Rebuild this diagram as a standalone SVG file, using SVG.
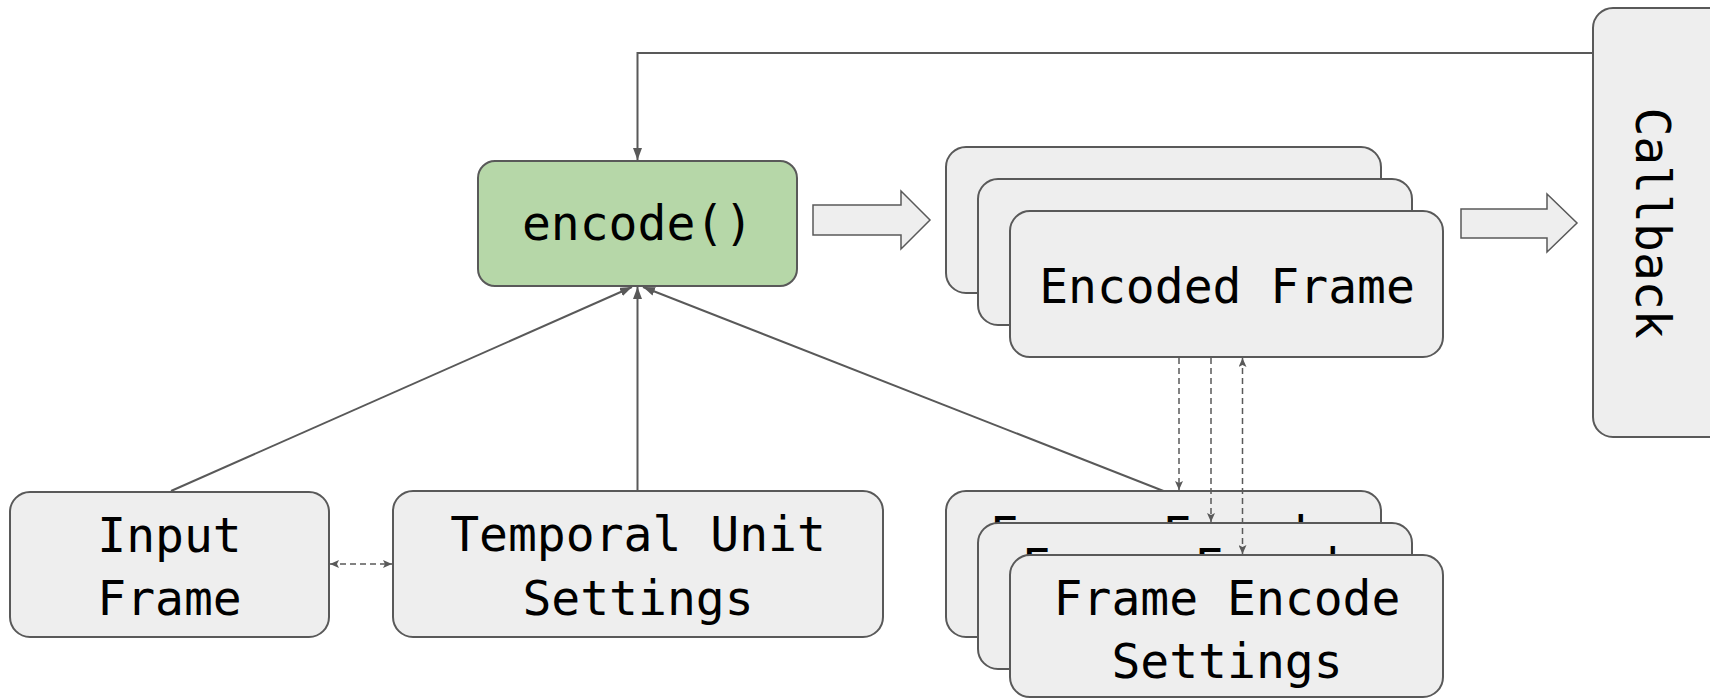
<svg xmlns="http://www.w3.org/2000/svg" width="1710" height="698" viewBox="0 0 1710 698">
  <style>
    .box { fill: #eeeeee; stroke: #595959; stroke-width: 2; }
    .fn { fill: #b6d7a8; stroke: #595959; stroke-width: 2; }
    .blk { fill: #eeeeee; stroke: #595959; stroke-width: 1.5; }
    .lbl { font-family: "DejaVu Sans Mono", "Liberation Mono", monospace; font-size: 48px; fill: #000000; text-anchor: middle; }
    .ln { fill: none; stroke: #595959; stroke-width: 2; }
    .dash { fill: none; stroke: #595959; stroke-width: 1.5; stroke-dasharray: 6 4; }
  </style>
  <defs>
    <marker id="arr" markerUnits="userSpaceOnUse" markerWidth="12" markerHeight="9" refX="12" refY="4.5" orient="auto">
      <path d="M0,0 L12,4.5 L0,9 z" fill="#595959"/>
    </marker>
    <marker id="sarr" markerUnits="userSpaceOnUse" markerWidth="9" markerHeight="8" refX="9" refY="4" orient="auto-start-reverse">
      <path d="M0,0 L9,4 L0,8 L2,4 z" fill="#595959"/>
    </marker>
  </defs>

  <rect width="1710" height="698" fill="#ffffff"/>

  <!-- encode() call -->
  <g id="encode">
    <rect class="fn" x="478" y="161" width="319" height="125" rx="17"/>
    <text class="lbl" x="637.5" y="240">encode()</text>
  </g>

  <!-- block arrow: encode -> encoded frames -->
  <g id="arrow-encode-out">
    <path class="blk" d="M813,205 H901 V191 L930,220 L901,249 V235 H813 z"/>
  </g>

  <!-- stack of encoded frames -->
  <g id="encoded-frames">
    <rect class="box" x="946" y="147" width="435" height="146" rx="20"/>
    <rect class="box" x="978" y="179" width="434" height="146" rx="20"/>
    <rect class="box" x="1010" y="211" width="433" height="146" rx="20"/>
    <text class="lbl" x="1227" y="303">Encoded Frame</text>
  </g>

  <!-- block arrow: encoded frames -> callback -->
  <g id="arrow-callback">
    <path class="blk" d="M1461,209 H1547 V194 L1577,223 L1547,252 V238 H1461 z"/>
  </g>

  <!-- callback -->
  <g id="callback">
    <rect class="box" x="1593" y="8" width="140" height="429" rx="20"/>
    <text class="lbl" transform="translate(1636,223) rotate(90)">Callback</text>
  </g>

  <!-- input frame -->
  <g id="input-frame">
    <rect class="box" x="10" y="492" width="319" height="145" rx="20"/>
    <text class="lbl" x="169.5" y="552">Input</text>
    <text class="lbl" x="169.5" y="615">Frame</text>
  </g>

  <!-- temporal unit settings -->
  <g id="temporal-unit-settings">
    <rect class="box" x="393" y="491" width="490" height="146" rx="20"/>
    <text class="lbl" x="638" y="551">Temporal Unit</text>
    <text class="lbl" x="638" y="615">Settings</text>
  </g>

  <!-- stack of per-frame encode settings -->
  <g id="frame-encode-settings">
    <rect class="box" x="946" y="491" width="435" height="146" rx="20"/>
    <text class="lbl" x="1163" y="551">Frame Encode</text>
    <rect class="box" x="978" y="523" width="434" height="146" rx="20"/>
    <text class="lbl" x="1195" y="583">Frame Encode</text>
    <rect class="box" x="1010" y="555" width="433" height="142" rx="20"/>
    <text class="lbl" x="1227" y="615">Frame Encode</text>
    <text class="lbl" x="1227" y="678">Settings</text>
  </g>

  <!-- connectors -->
  <g id="connectors">
    <path class="ln" d="M1593,53 H637.5 V160" marker-end="url(#arr)"/>
    <path class="ln" d="M171,491 L632,287" marker-end="url(#arr)"/>
    <path class="ln" d="M637.5,491 V287" marker-end="url(#arr)"/>
    <path class="ln" d="M1163.5,491 L643,287" marker-end="url(#arr)"/>
    <path class="dash" d="M330,564 H392" marker-start="url(#sarr)" marker-end="url(#sarr)"/>
    <path class="dash" d="M1179,358 V490" marker-end="url(#sarr)"/>
    <path class="dash" d="M1211,358 V522" marker-end="url(#sarr)"/>
    <path class="dash" d="M1242.5,358 V554" marker-start="url(#sarr)" marker-end="url(#sarr)"/>
  </g>
</svg>
